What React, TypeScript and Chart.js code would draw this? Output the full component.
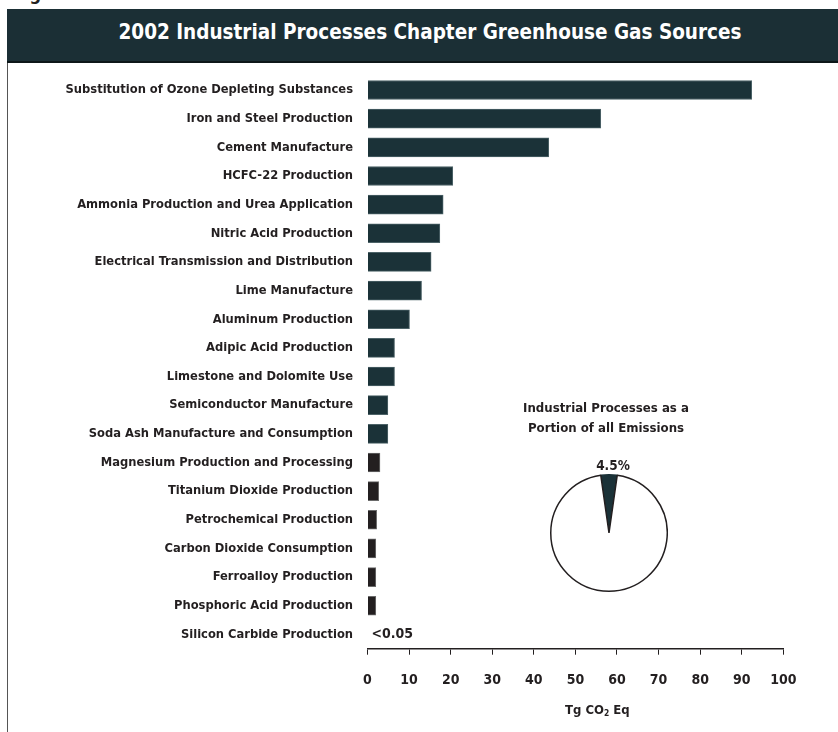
import React, { useEffect, useRef } from "react";
import { Chart, registerables } from "chart.js";

Chart.register(...registerables);

const FONT = "'Liberation Sans Narrow', 'Arial Narrow', 'DejaVu Sans Condensed', sans-serif";

const categories = [
  "Substitution of Ozone Depleting Substances",
  "Iron and Steel Production",
  "Cement Manufacture",
  "HCFC-22 Production",
  "Ammonia Production and Urea Application",
  "Nitric Acid Production",
  "Electrical Transmission and Distribution",
  "Lime Manufacture",
  "Aluminum Production",
  "Adipic Acid Production",
  "Limestone and Dolomite Use",
  "Semiconductor Manufacture",
  "Soda Ash Manufacture and Consumption",
  "Magnesium Production and Processing",
  "Titanium Dioxide Production",
  "Petrochemical Production",
  "Carbon Dioxide Consumption",
  "Ferroalloy Production",
  "Phosphoric Acid Production",
  "Silicon Carbide Production",
];

const values: (number | null)[] = [
  92.4, 56.1, 43.6, 20.5, 18.2, 17.4, 15.3, 13.0, 10.1, 6.5,
  6.5, 4.9, 4.9, 3.0, 2.7, 2.2, 2.0, 2.0, 2.0, null,
];

const valueNotes = ["", "", "", "", "", "", "", "", "", "", "", "", "", "", "", "", "", "", "", "<0.05"];

const xTicks = [0, 10, 20, 30, 40, 50, 60, 70, 80, 90, 100];

const pieLabels = ["Industrial Processes", "All Other Emissions"];
const pieValues = [4.5, 95.5];

const TEAL = "#1b3238";
const TEAL_BORDER = "#4d6368";
const BLACK = "#231f20";
const BLACK_BORDER = "#6a6a6a";

export default function App() {
  const barRef = useRef<HTMLCanvasElement>(null);
  const pieRef = useRef<HTMLCanvasElement>(null);

  useEffect(() => {
    document.body.style.margin = "0";
    const fills = values.map((_, i) => (i < 13 ? TEAL : BLACK));
    const borders = values.map((_, i) => (i < 13 ? TEAL_BORDER : BLACK_BORDER));

    const notePlugin = {
      id: "notes",
      afterDatasetsDraw(chart: any) {
        const { ctx, scales } = chart;
        ctx.save();
        ctx.font = `bold 14px ${FONT}`;
        ctx.fillStyle = BLACK;
        ctx.textAlign = "left";
        ctx.textBaseline = "middle";
        valueNotes.forEach((n, i) => {
          if (!n) return;
          ctx.fillText(n, scales.x.getPixelForValue(0) + 4, scales.y.getPixelForValue(i));
        });
        ctx.restore();
      },
    };

    const bar = new Chart(barRef.current!, {
      type: "bar",
      data: {
        labels: categories,
        datasets: [
          {
            data: values as any,
            backgroundColor: fills,
            borderColor: borders,
            borderWidth: 1,
            barThickness: 19,
          },
        ],
      },
      options: {
        indexAxis: "y",
        responsive: false,
        animation: false,
        layout: { padding: { top: 75.7, right: 54.7, bottom: 33.3, left: 0 } },
        plugins: { legend: { display: false }, tooltip: { enabled: false } },
        scales: {
          x: {
            min: 0,
            max: 100,
            afterFit: (s: any) => {
              s.height = 50;
            },
            afterBuildTicks: (s: any) => {
              s.ticks = xTicks.map((v) => ({ value: v }));
            },
            grid: {
              display: true,
              drawOnChartArea: false,
              drawTicks: true,
              tickLength: 6,
              color: BLACK,
              lineWidth: 1,
            },
            border: { display: true, color: BLACK, width: 1.5 },
            ticks: {
              font: { family: FONT, size: 14, weight: "bold" },
              color: BLACK,
              padding: 17,
              autoSkip: false,
              maxRotation: 0,
            },
          },
          y: {
            afterFit: (s: any) => {
              s.width = 367.5;
            },
            grid: { display: false, drawTicks: false },
            border: { display: false },
            ticks: {
              font: { family: FONT, size: 12.8, weight: "bold" },
              color: BLACK,
              padding: 14.5,
              autoSkip: false,
            },
          },
        },
      },
      plugins: [notePlugin],
    });

    const pie = new Chart(pieRef.current!, {
      type: "pie",
      data: {
        labels: pieLabels,
        datasets: [
          {
            data: pieValues,
            backgroundColor: [TEAL, "#ffffff"],
            borderColor: [TEAL, BLACK],
            borderWidth: 1.5,
          },
        ],
      },
      options: {
        responsive: false,
        animation: false,
        rotation: -8.1,
        layout: { padding: 0 },
        plugins: { legend: { display: false }, tooltip: { enabled: false } },
      },
    });

    return () => {
      bar.destroy();
      pie.destroy();
    };
  }, []);

  const txt: React.CSSProperties = {
    position: "absolute",
    fontFamily: FONT,
    fontWeight: "bold",
    color: BLACK,
    whiteSpace: "nowrap",
  };

  return (
    <div style={{ position: "absolute", left: 0, top: 0, width: 838, height: 732, overflow: "hidden", background: "#fff" }}>
      <div style={{ ...txt, left: 13, top: -15, fontSize: 18, lineHeight: "18px" }}>Figure</div>
      <div
        style={{
          position: "absolute",
          left: 7,
          top: 9,
          width: 831,
          height: 54,
          boxSizing: "border-box",
          background: "#1b2f35",
          borderBottom: "2px solid #0d1719",
        }}
      >
        <div
          style={{
            ...txt,
            position: "static",
            color: "#ffffff",
            fontSize: 20.5,
            lineHeight: "46px",
            textAlign: "center",
            paddingLeft: 15,
          }}
        >
          2002 Industrial Processes Chapter Greenhouse Gas Sources
        </div>
      </div>
      <div style={{ position: "absolute", left: 7, top: 63, width: 1, height: 669, background: "#555" }} />
      <canvas ref={barRef} width={838} height={732} style={{ position: "absolute", left: 0, top: 0, width: 838, height: 732 }} />
      <div style={{ ...txt, left: 506, top: 398, width: 200, textAlign: "center", fontSize: 13.1, lineHeight: "20px" }}>
        Industrial Processes as a<br />Portion of all Emissions
      </div>
      <div style={{ ...txt, left: 563, top: 455, width: 100, textAlign: "center", fontSize: 13.5, lineHeight: "20px" }}>4.5%</div>
      <canvas ref={pieRef} width={118} height={118} style={{ position: "absolute", left: 550, top: 474, width: 118, height: 118 }} />
      <div style={{ ...txt, left: 565, top: 700, fontSize: 13, lineHeight: "20px" }}>
        Tg CO<sub style={{ fontSize: "0.65em", verticalAlign: "-0.25em" }}>2</sub> Eq
      </div>
    </div>
  );
}
